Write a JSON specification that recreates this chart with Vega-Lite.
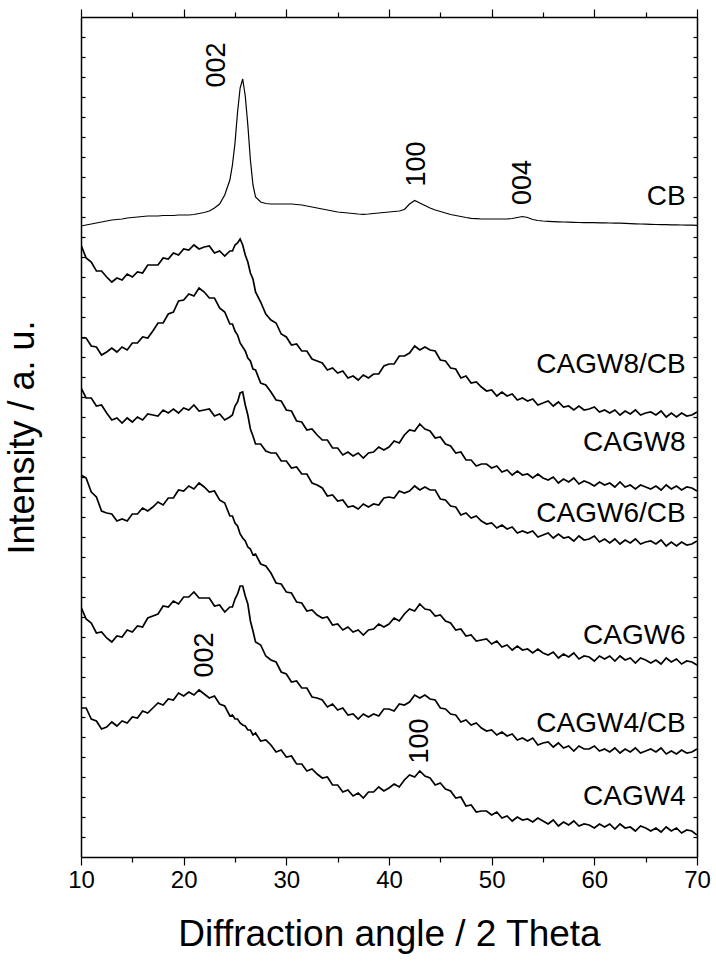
{
  "$schema": "https://vega.github.io/schema/vega-lite/v6.json",
  "width": 616,
  "height": 840,
  "autosize": {"type": "none"},
  "padding": {"left": 81, "top": 17, "right": 19, "bottom": 104},
  "background": "white",
  "config": {
    "view": {"stroke": null},
    "font": "Liberation Sans",
    "axis": {"grid": false, "domainColor": "black", "domainWidth": 1.5, "tickColor": "black", "tickWidth": 1.2, "labelColor": "black", "titleColor": "black", "titleFontWeight": "normal", "labelFont": "Liberation Sans", "titleFont": "Liberation Sans"}
  },
  "datasets": {
    "xrd": [
      {"a":10,"cb":631,"a8c":612,"a8":519,"a6c":469,"a6":382,"a4c":250,"a4":149},
      {"a":10.5,"cb":632,"a8c":599,"a8":519,"a6c":459,"a6":379,"a4c":238,"a4":149},
      {"a":11,"cb":633,"a8c":595,"a8":511,"a6c":459,"a6":365,"a4c":234,"a4":138},
      {"a":11.5,"cb":634,"a8c":586,"a8":510,"a6c":451,"a6":360,"a4c":224,"a4":136},
      {"a":12,"cb":635,"a8c":586,"a8":502,"a6c":452,"a6":346,"a4c":225,"a4":128},
      {"a":12.5,"cb":636,"a8c":580,"a8":505,"a6c":444,"a6":344,"a4c":219,"a4":130},
      {"a":13,"cb":637,"a8c":575,"a8":509,"a6c":437,"a6":343,"a4c":215,"a4":135},
      {"a":13.5,"cb":637.5,"a8c":579,"a8":505,"a6c":439,"a6":336,"a4c":221,"a4":131},
      {"a":14,"cb":638,"a8c":577,"a8":510,"a6c":434,"a6":338,"a4c":220,"a4":136},
      {"a":14.5,"cb":639,"a8c":583,"a8":507,"a6c":439,"a6":336,"a4c":227,"a4":134},
      {"a":15,"cb":639.5,"a8c":580,"a8":514,"a6c":435,"a6":343,"a4c":225,"a4":140},
      {"a":15.5,"cb":640,"a8c":585,"a8":514,"a6c":440,"a6":343,"a4c":231,"a4":139},
      {"a":16,"cb":640.5,"a8c":584,"a8":520,"a6c":437,"a6":349,"a4c":230,"a4":146},
      {"a":16.5,"cb":641,"a8c":592,"a8":519,"a6c":443,"a6":346,"a4c":239,"a4":144},
      {"a":17,"cb":641,"a8c":592,"a8":526,"a6c":442,"a6":350,"a4c":241,"a4":149},
      {"a":17.5,"cb":641,"a8c":592,"a8":534,"a6c":441,"a6":355,"a4c":243,"a4":154},
      {"a":18,"cb":641.5,"a8c":599,"a8":534,"a6c":447,"a6":352,"a4c":251,"a4":152},
      {"a":18.5,"cb":641.5,"a8c":598,"a8":543,"a6c":444,"a6":359,"a4c":250,"a4":158},
      {"a":19,"cb":641.5,"a8c":604,"a8":545,"a6c":448,"a6":359,"a4c":256,"a4":157},
      {"a":19.5,"cb":642,"a8c":602,"a8":556,"a6c":444,"a6":367,"a4c":253,"a4":164},
      {"a":20,"cb":642,"a8c":608,"a8":557,"a6c":449,"a6":366,"a4c":260,"a4":161},
      {"a":20.5,"cb":642,"a8c":607,"a8":563,"a6c":447,"a6":371,"a4c":260,"a4":165},
      {"a":21,"cb":642.5,"a8c":612,"a8":561,"a6c":452,"a6":368,"a4c":265,"a4":162},
      {"a":21.5,"cb":643.5,"a8c":608,"a8":569,"a6c":446,"a6":374,"a4c":259,"a4":167},
      {"a":22,"cb":644.5,"a8c":610,"a8":565,"a6c":447,"a6":370,"a4c":259,"a4":163},
      {"a":22.5,"cb":646,"a8c":611,"a8":559,"a6c":448,"a6":365,"a4c":259,"a4":159},
      {"a":23,"cb":649,"a8c":604,"a8":559,"a6c":441,"a6":366,"a4c":251,"a4":161},
      {"a":23.5,"cb":653,"a8c":606,"a8":549,"a6c":443,"a6":357,"a4c":252,"a4":153},
      {"a":24,"cb":662,"a8c":601,"a8":545,"a6c":437,"a6":354,"a4c":245,"a4":151},
      {"a":24.5,"cb":677,"a8c":606,"a8":533,"a6c":440,"a6":341,"a4c":250,"a4":141},
      {"a":24.75,"cb":692,"a8c":606,"a8":533,"a6c":442,"a6":341,"a4c":250,"a4":142},
      {"a":25,"cb":714,"a8c":612,"a8":526,"a6c":451,"a6":334,"a4c":258,"a4":138},
      {"a":25.25,"cb":745,"a8c":614,"a8":522,"a6c":455,"a6":331,"a4c":263,"a4":138},
      {"a":25.5,"cb":769,"a8c":618,"a8":514,"a6c":464,"a6":323,"a4c":271,"a4":134},
      {"a":25.75,"cb":778,"a8c":612,"a8":510,"a6c":465,"a6":319,"a4c":271,"a4":132},
      {"a":26,"cb":761,"a8c":602,"a8":506,"a6c":452,"a6":316,"a4c":261,"a4":131},
      {"a":26.25,"cb":732,"a8c":595,"a8":499,"a6c":442,"a6":310,"a4c":253,"a4":127},
      {"a":26.5,"cb":697,"a8c":584,"a8":496,"a6c":428,"a6":308,"a4c":236,"a4":127},
      {"a":26.75,"cb":672,"a8c":578,"a8":488,"a6c":421,"a6":302,"a4c":226,"a4":122},
      {"a":27,"cb":660,"a8c":565,"a8":487,"a6c":413,"a6":303,"a4c":215,"a4":124},
      {"a":27.5,"cb":655,"a8c":555,"a8":474,"a6c":413,"a6":293,"a4c":212,"a4":116},
      {"a":28,"cb":653.5,"a8c":543,"a8":472,"a6c":406,"a6":291,"a4c":201,"a4":117},
      {"a":28.5,"cb":653,"a8c":537,"a8":465,"a6c":404,"a6":284,"a4c":197,"a4":112},
      {"a":29,"cb":653,"a8c":534,"a8":457,"a6c":404,"a6":274,"a4c":195,"a4":105},
      {"a":29.5,"cb":653,"a8c":523,"a8":456,"a6c":396,"a6":273,"a4c":185,"a4":107},
      {"a":30,"cb":653,"a8c":520,"a8":447,"a6c":396,"a6":265,"a4c":183,"a4":100},
      {"a":30.5,"cb":653,"a8c":512,"a8":446,"a6c":389,"a6":264,"a4c":175,"a4":101},
      {"a":31,"cb":652.5,"a8c":513,"a8":436,"a6c":390,"a6":255,"a4c":176,"a4":93},
      {"a":31.5,"cb":652,"a8c":506,"a8":435,"a6c":383,"a6":254,"a4c":169,"a4":93},
      {"a":32,"cb":651,"a8c":506,"a8":427,"a6c":383,"a6":246,"a4c":169,"a4":86},
      {"a":32.5,"cb":650,"a8c":498,"a8":428,"a6c":374,"a6":247,"a4c":160,"a4":88},
      {"a":33,"cb":649,"a8c":496,"a8":422,"a6c":372,"a6":242,"a4c":159,"a4":83},
      {"a":33.5,"cb":648,"a8c":494,"a8":417,"a6c":369,"a6":239,"a4c":157,"a4":79},
      {"a":34,"cb":647,"a8c":487,"a8":417,"a6c":361,"a6":240,"a4c":150,"a4":80},
      {"a":34.5,"cb":646,"a8c":489,"a8":409,"a6c":362,"a6":232,"a4c":153,"a4":72},
      {"a":35,"cb":645,"a8c":484,"a8":409,"a6c":356,"a6":233,"a4c":147,"a4":72},
      {"a":35.5,"cb":644.5,"a8c":486,"a8":402,"a6c":357,"a6":227,"a4c":149,"a4":65},
      {"a":36,"cb":644,"a8c":479,"a8":405,"a6c":350,"a6":230,"a4c":142,"a4":67},
      {"a":36.5,"cb":643.5,"a8c":481,"a8":401,"a6c":351,"a6":225,"a4c":143,"a4":61},
      {"a":37,"cb":643,"a8c":477,"a8":404,"a6c":348,"a6":227,"a4c":138,"a4":64},
      {"a":37.5,"cb":642.7,"a8c":482,"a8":399,"a6c":353,"a6":222,"a4c":143,"a4":59},
      {"a":38,"cb":643,"a8c":479,"a8":404,"a6c":350,"a6":227,"a4c":140,"a4":65},
      {"a":38.5,"cb":643.5,"a8c":483,"a8":405,"a6c":353,"a6":228,"a4c":143,"a4":65},
      {"a":39,"cb":644,"a8c":483,"a8":410,"a6c":352,"a6":233,"a4c":141,"a4":70},
      {"a":39.5,"cb":644.5,"a8c":491,"a8":407,"a6c":359,"a6":230,"a4c":148,"a4":66},
      {"a":40,"cb":645,"a8c":493,"a8":410,"a6c":360,"a6":233,"a4c":148,"a4":69},
      {"a":40.5,"cb":645.5,"a8c":493,"a8":416,"a6c":359,"a6":239,"a4c":146,"a4":73},
      {"a":41,"cb":646,"a8c":501,"a8":414,"a6c":366,"a6":236,"a4c":153,"a4":70},
      {"a":41.5,"cb":647.5,"a8c":501,"a8":422,"a6c":364,"a6":243,"a4c":152,"a4":77},
      {"a":42,"cb":653,"a8c":504,"a8":427,"a6c":366,"a6":248,"a4c":155,"a4":82},
      {"a":42.5,"cb":656.5,"a8c":511,"a8":426,"a6c":371,"a6":246,"a4c":162,"a4":80},
      {"a":43,"cb":654,"a8c":507,"a8":433,"a6c":367,"a6":253,"a4c":159,"a4":86},
      {"a":43.5,"cb":651.5,"a8c":510,"a8":428,"a6c":370,"a6":248,"a4c":162,"a4":81},
      {"a":44,"cb":649,"a8c":507,"a8":426,"a6c":367,"a6":247,"a4c":158,"a4":79},
      {"a":44.5,"cb":647,"a8c":506,"a8":419,"a6c":367,"a6":241,"a4c":157,"a4":72},
      {"a":45,"cb":645.5,"a8c":497,"a8":420,"a6c":358,"a6":242,"a4c":149,"a4":74},
      {"a":45.5,"cb":644,"a8c":496,"a8":413,"a6c":357,"a6":236,"a4c":148,"a4":68},
      {"a":46,"cb":642.5,"a8c":489,"a8":411,"a6c":351,"a6":234,"a4c":143,"a4":66},
      {"a":46.5,"cb":641.5,"a8c":488,"a8":404,"a6c":350,"a6":227,"a4c":142,"a4":59},
      {"a":47,"cb":640.5,"a8c":479,"a8":405,"a6c":342,"a6":228,"a4c":135,"a4":60},
      {"a":47.5,"cb":639.5,"a8c":481,"a8":397,"a6c":344,"a6":221,"a4c":137,"a4":51},
      {"a":48,"cb":638.7,"a8c":474,"a8":397,"a6c":339,"a6":222,"a4c":132,"a4":52},
      {"a":48.5,"cb":638.3,"a8c":475,"a8":391,"a6c":341,"a6":216,"a4c":134,"a4":45},
      {"a":49,"cb":638,"a8c":470,"a8":393,"a6c":336,"a6":217,"a4c":129,"a4":46},
      {"a":49.5,"cb":638,"a8c":466,"a8":393,"a6c":333,"a6":218,"a4c":126,"a4":46},
      {"a":50,"cb":638,"a8c":467,"a8":389,"a6c":334,"a6":213,"a4c":127,"a4":42},
      {"a":50.5,"cb":638,"a8c":461,"a8":391,"a6c":329,"a6":216,"a4c":122,"a4":45},
      {"a":51,"cb":638,"a8c":465,"a8":385,"a6c":332,"a6":210,"a4c":125,"a4":39},
      {"a":51.5,"cb":638,"a8c":461,"a8":387,"a6c":328,"a6":212,"a4c":121,"a4":41},
      {"a":52,"cb":638.5,"a8c":463,"a8":382,"a6c":330,"a6":207,"a4c":123,"a4":36},
      {"a":52.5,"cb":639.5,"a8c":457,"a8":386,"a6c":324,"a6":211,"a4c":117,"a4":40},
      {"a":53,"cb":640.5,"a8c":459,"a8":382,"a6c":326,"a6":207,"a4c":119,"a4":37},
      {"a":53.5,"cb":639.5,"a8c":456,"a8":383,"a6c":324,"a6":208,"a4c":116,"a4":38},
      {"a":54,"cb":637.5,"a8c":458,"a8":379,"a6c":326,"a6":204,"a4c":119,"a4":35},
      {"a":54.5,"cb":636.5,"a8c":452,"a8":383,"a6c":320,"a6":208,"a4c":112,"a4":39},
      {"a":55,"cb":636,"a8c":454,"a8":379,"a6c":322,"a6":204,"a4c":114,"a4":36},
      {"a":55.5,"cb":635.7,"a8c":456,"a8":377,"a6c":324,"a6":202,"a4c":115,"a4":33},
      {"a":56,"cb":635.4,"a8c":451,"a8":380,"a6c":319,"a6":205,"a4c":110,"a4":37},
      {"a":56.5,"cb":635.2,"a8c":455,"a8":374,"a6c":323,"a6":199,"a4c":114,"a4":31},
      {"a":57,"cb":635,"a8c":450,"a8":378,"a6c":319,"a6":203,"a4c":109,"a4":35},
      {"a":57.5,"cb":634.8,"a8c":451,"a8":375,"a6c":320,"a6":200,"a4c":111,"a4":32},
      {"a":58,"cb":634.6,"a8c":447,"a8":379,"a6c":316,"a6":204,"a4c":106,"a4":36},
      {"a":58.5,"cb":634.5,"a8c":451,"a8":373,"a6c":321,"a6":198,"a4c":111,"a4":31},
      {"a":59,"cb":634.4,"a8c":447,"a8":376,"a6c":317,"a6":201,"a4c":108,"a4":33},
      {"a":59.5,"cb":634.3,"a8c":448,"a8":374,"a6c":318,"a6":200,"a4c":108,"a4":32},
      {"a":60,"cb":634.3,"a8c":450,"a8":371,"a6c":321,"a6":196,"a4c":111,"a4":29},
      {"a":60.5,"cb":634.2,"a8c":445,"a8":375,"a6c":315,"a6":201,"a4c":106,"a4":33},
      {"a":61,"cb":634.1,"a8c":447,"a8":372,"a6c":318,"a6":198,"a4c":108,"a4":30},
      {"a":61.5,"cb":634,"a8c":444,"a8":374,"a6c":314,"a6":201,"a4c":105,"a4":33},
      {"a":62,"cb":633.9,"a8c":447,"a8":370,"a6c":318,"a6":196,"a4c":109,"a4":28},
      {"a":62.5,"cb":633.8,"a8c":442,"a8":375,"a6c":313,"a6":201,"a4c":104,"a4":33},
      {"a":63,"cb":633.6,"a8c":446,"a8":370,"a6c":317,"a6":197,"a4c":108,"a4":29},
      {"a":63.5,"cb":633.4,"a8c":443,"a8":372,"a6c":314,"a6":199,"a4c":105,"a4":30},
      {"a":64,"cb":633.2,"a8c":447,"a8":368,"a6c":318,"a6":194,"a4c":109,"a4":26},
      {"a":64.5,"cb":633,"a8c":442,"a8":372,"a6c":313,"a6":199,"a4c":104,"a4":31},
      {"a":65,"cb":632.8,"a8c":444,"a8":370,"a6c":315,"a6":197,"a4c":106,"a4":29},
      {"a":65.5,"cb":632.6,"a8c":445,"a8":368,"a6c":316,"a6":194,"a4c":108,"a4":26},
      {"a":66,"cb":632.5,"a8c":442,"a8":371,"a6c":313,"a6":197,"a4c":105,"a4":29},
      {"a":66.5,"cb":632.4,"a8c":446,"a8":367,"a6c":317,"a6":193,"a4c":109,"a4":25},
      {"a":67,"cb":632.3,"a8c":440,"a8":372,"a6c":311,"a6":199,"a4c":103,"a4":30},
      {"a":67.5,"cb":632.2,"a8c":444,"a8":368,"a6c":315,"a6":195,"a4c":106,"a4":26},
      {"a":68,"cb":632.1,"a8c":440,"a8":371,"a6c":311,"a6":198,"a4c":103,"a4":29},
      {"a":68.5,"cb":632,"a8c":444,"a8":367,"a6c":315,"a6":193,"a4c":107,"a4":24},
      {"a":69,"cb":631.9,"a8c":441,"a8":370,"a6c":312,"a6":196,"a4c":104,"a4":27},
      {"a":69.5,"cb":631.8,"a8c":442,"a8":369,"a6c":313,"a6":195,"a4c":105,"a4":26},
      {"a":70,"cb":631.7,"a8c":445,"a8":366,"a6c":316,"a6":192,"a4c":108,"a4":22}
    ],
    "peaks": [
      {"x":23.25,"y":792,"t":"002"},
      {"x":42.73,"y":693,"t":"100"},
      {"x":53.1,"y":674.5,"t":"004"},
      {"x":22.1,"y":202,"t":"002"},
      {"x":43.0,"y":116,"t":"100"}
    ],
    "names": [
      {"x":68.9,"y":660,"t":"CB"},
      {"x":68.9,"y":492,"t":"CAGW8/CB"},
      {"x":68.9,"y":414.5,"t":"CAGW8"},
      {"x":68.9,"y":343,"t":"CAGW6/CB"},
      {"x":68.9,"y":221,"t":"CAGW6"},
      {"x":68.9,"y":133,"t":"CAGW4/CB"},
      {"x":68.9,"y":60.3,"t":"CAGW4"}
    ]
  },
  "layer": [
    {
      "data": {"name": "xrd"},
      "transform": [{"fold": ["cb", "a8c", "a8", "a6c", "a6", "a4c", "a4"], "as": ["sample", "intensity"]}],
      "mark": {"type": "line", "stroke": "black", "interpolate": "linear", "clip": true},
      "encoding": {
        "x": {"field": "a", "type": "quantitative", "scale": {"domain": [10, 70], "nice": false, "zero": false},
          "axis": {"orient": "bottom", "values": [10,15,20,25,30,35,40,45,50,55,60,65,70],
            "tickSize": {"condition": {"test": "datum.value % 10 === 0", "value": 8}, "value": 5},
            "labelExpr": "datum.value % 10 === 0 ? datum.label : ''",
            "labelFontSize": 24, "labelPadding": 3, "labelFlush": false, "labelOverlap": false,
            "title": "Diffraction angle / 2 Theta", "titleFontSize": 37, "titlePadding": 24}},
        "y": {"field": "intensity", "type": "quantitative", "scale": {"domain": [0, 840], "nice": false, "zero": false},
          "axis": {"orient": "left", "values": [20,40,60,80,100,120,140,160,180,200,220,240,260,280,300,320,340,360,380,400,420,440,460,480,500,520,540,560,580,600,620,640,660,680,700,720,740,760,780,800,820],
            "tickSize": -4, "labels": false, "title": "Intensity / a. u.", "titleFontSize": 36, "titlePadding": 39}},
        "detail": {"field": "sample"},
        "strokeWidth": {"condition": {"test": "datum.sample === 'cb'", "value": 1.2}, "value": 1.7}
      }
    },
    {
      "data": {"name": "peaks"},
      "mark": {"type": "text", "angle": 270, "fontSize": 27, "align": "center", "baseline": "middle", "color": "black", "font": "Liberation Sans"},
      "encoding": {
        "x": {"field": "x", "type": "quantitative",
          "axis": {"orient": "top", "values": [10,15,20,25,30,35,40,45,50,55,60,65,70],
            "tickSize": {"condition": {"test": "datum.value % 10 === 0", "value": 8}, "value": 5},
            "labels": false, "title": null}},
        "y": {"field": "y", "type": "quantitative",
          "axis": {"orient": "right", "values": [20,40,60,80,100,120,140,160,180,200,220,240,260,280,300,320,340,360,380,400,420,440,460,480,500,520,540,560,580,600,620,640,660,680,700,720,740,760,780,800,820],
            "tickSize": -4, "labels": false, "title": null}},
        "text": {"field": "t"}
      }
    },
    {
      "data": {"name": "names"},
      "mark": {"type": "text", "fontSize": 28, "align": "right", "baseline": "middle", "color": "black", "font": "Liberation Sans"},
      "encoding": {
        "x": {"field": "x", "type": "quantitative", "axis": null},
        "y": {"field": "y", "type": "quantitative", "axis": null},
        "text": {"field": "t"}
      }
    }
  ],
  "resolve": {"axis": {"x": "independent", "y": "independent"}}
}
